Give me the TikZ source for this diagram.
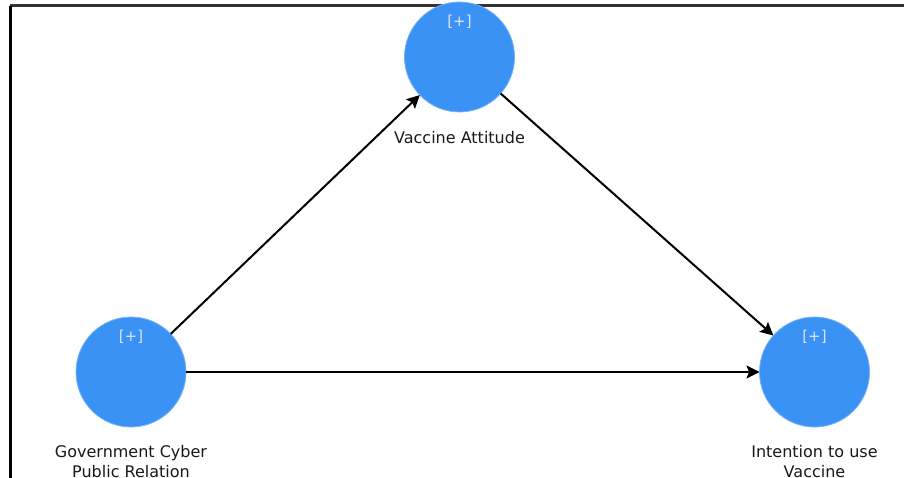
\documentclass[tikz,border=0pt]{standalone}
\usepackage{fontspec}
\setmainfont{DejaVu Sans}
\usetikzlibrary{arrows.meta}
\definecolor{nodeblue}{RGB}{58,146,245}
\definecolor{pluscol}{RGB}{222,226,255}
\begin{document}
\begin{tikzpicture}[x=1pt,y=-1pt,
  latent/.style={circle,fill=nodeblue,draw=nodeblue!70!white,line width=0.8pt,minimum size=110pt,inner sep=0pt,outer sep=0pt},
  plus/.style={text=pluscol,font=\fontsize{15}{17}\selectfont,inner sep=0pt},
  lbl/.style={font=\fontsize{16}{20.5}\selectfont,align=center,inner sep=0pt,text=black!90},
  path/.style={line width=2pt,-{Stealth[length=13pt,width=13pt,inset=2.5pt]}}]
\useasboundingbox (0,0) rectangle (904,478);
\clip (0,0) rectangle (904,478);
\fill[white] (0,0) rectangle (904,478);
% frame
\coordinate (tl) at (10,6);
\coordinate (tr) at (904,6);
\coordinate (bl) at (10,478);
\draw[line width=3pt,black!80] (tl) -- (tr);
\draw[line width=3pt,black] (tl) -- (bl);
% nodes
\node[latent] (va) at (459.5,57) {};
\node[latent] (gov) at (131,372) {};
\node[latent] (int) at (814.5,372) {};
\node[plus] (pva) at (459.5,22) {[+]};
\node[plus] (pgov) at (131,337) {[+]};
\node[plus] (pint) at (814.5,337) {[+]};
\node[lbl] (lva) at (459.5,138) {Vaccine Attitude};
\node[lbl,anchor=north] (lgov) at (131,445) {Government Cyber\\Public Relation};
\node[lbl,anchor=north] (lint) at (814.5,445) {Intention to use\\Vaccine};
% connectors
\draw[path] (gov) -- (va);
\draw[path] (va) -- (int);
\draw[path] (gov) -- (int);
\end{tikzpicture}
\end{document}
